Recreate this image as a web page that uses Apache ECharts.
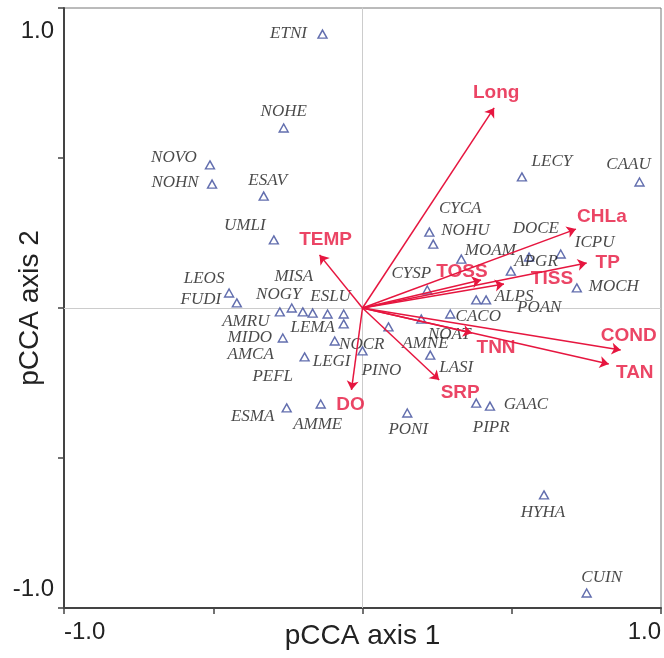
<!DOCTYPE html>
<html>
<head>
<meta charset="utf-8">
<script src="https://cdn.jsdelivr.net/npm/echarts@6/dist/echarts.min.js"></script>
<style>
  html, body { margin: 0; padding: 0; background: #fff; }
  #main { width: 664px; height: 658px; }
</style>
</head>
<body>
<div id="main"></div>
<script>
// species scores (axis 1, axis 2)
var speciesNames = ['ETNI','NOHE','NOVO','NOHN','ESAV','UMLI','LEOS','FUDI','AMRU','NOGY',
  'MISA','LEMA','ESLU','AMCA','PEFL','MIDO','NOCR','LEGI','PINO','AMNE',
  'NOAT','CACO','LASI','POAN','ALPS','CYSP','NOHU','CYCA','MOAM','DOCE',
  'APGR','ICPU','MOCH','LECY','CAAU','GAAC','PIPR','PONI','ESMA','AMME',
  'HYHA','CUIN'];
var speciesX = [-0.134,-0.264,-0.511,-0.504,-0.331,-0.297,-0.447,-0.421,-0.277,-0.237,
  -0.200,-0.167,-0.117,-0.063,-0.063,-0.267,-0.093,-0.194,0.000,0.087,
  0.197,0.294,0.227,0.381,0.414,0.217,0.224,0.237,0.331,0.497,
  0.558,0.664,0.718,0.534,0.928,0.427,0.381,0.150,-0.254,-0.140,
  0.608,0.751];
var speciesY = [0.913,0.600,0.477,0.413,0.373,0.227,0.050,0.017,-0.013,0.000,
  -0.013,-0.017,-0.020,-0.020,-0.053,-0.100,-0.110,-0.163,-0.143,-0.063,
  -0.037,-0.020,-0.157,0.027,0.027,0.060,0.253,0.213,0.163,0.123,
  0.170,0.180,0.067,0.437,0.420,-0.327,-0.317,-0.350,-0.333,-0.320,
  -0.623,-0.950];

// environmental vectors
var envNames = ['Long','TEMP','DO','SRP','TNN','COND','TAN','CHLa','TP','TISS','TOSS'];
var envX = [0.441,-0.144,-0.037,0.257,0.367,0.865,0.825,0.715,0.751,0.474,0.397];
var envY = [0.667,0.177,-0.273,-0.240,-0.083,-0.140,-0.187,0.263,0.150,0.080,0.093];

var axisTicks = [-1.0, 1.0];

// label placement (pixels, from the point)
var speciesLabelOffset = {
  ETNI:[-34,-1], NOHE:[0,-16], NOVO:[-36,-7], NOHN:[-37,-2], ESAV:[4,-16],
  UMLI:[-29,-14], LEOS:[-25,-14], FUDI:[-36,-3], AMRU:[-34,10], NOGY:[-13,-13],
  MISA:[-9,-35], LEMA:[0,14], ESLU:[3,-17], AMCA:[-93,41], PEFL:[-71,53],
  MIDO:[-33,0], NOCR:[27,4], LEGI:[27,5], PINO:[19,20], AMNE:[37,17],
  NOAT:[28,15], CACO:[28,3], LASI:[26,12], POAN:[63,8], ALPS:[28,-3],
  CYSP:[-16,-16], NOHU:[36,-2], CYCA:[27,-36], MOAM:[29,-9], DOCE:[25,-43],
  APGR:[7,5], ICPU:[34,-11], MOCH:[37,-1], LECY:[30,-15], CAAU:[-11,-17],
  GAAC:[36,-2], PIPR:[15,24], PONI:[1,17], ESMA:[-34,9], AMME:[-3,21],
  HYHA:[-1,18], CUIN:[15,-15]
};
var envLabelOffset = {
  Long:[2,-15], TEMP:[6,-15], DO:[-1,15], SRP:[21,13], TNN:[24,15],
  COND:[8,-14], TAN:[26,9], CHLa:[26,-12], TP:[21,0], TISS:[48,-5], TOSS:[-19,-8]
};

var red = '#e6163f';

var speciesData = speciesNames.map(function (n, i) {
  return {
    name: n,
    value: [speciesX[i], speciesY[i]],
    label: { offset: speciesLabelOffset[n] }
  };
});
var arrowData = envNames.map(function (n, i) {
  return { name: n, coords: [[0, 0], [envX[i], envY[i]]] };
});
var envLabelData = envNames.map(function (n, i) {
  return { name: n, value: [envX[i], envY[i]], label: { offset: envLabelOffset[n] } };
});

function tickFormatter(v) {
  return axisTicks.indexOf(v) >= 0 ? v.toFixed(1) : '';
}

var myChart = echarts.init(document.getElementById('main'));
var option = {
  animation: false,
  grid: {
    left: 64, right: 3, top: 8, bottom: 50,
    outerBoundsMode: 'none', containLabel: false,
    show: true, borderColor: '#777', borderWidth: 1
  },
  xAxis: {
    type: 'value', min: -1, max: 1, interval: 0.5,
    name: 'pCCA axis 1', nameLocation: 'middle', nameGap: 14, nameMoveOverlap: false,
    nameTextStyle: { fontSize: 28, color: '#222', fontFamily: 'Liberation Sans', verticalAlign: 'top' },
    axisLine: { onZero: false, lineStyle: { color: '#444', width: 2 } },
    axisTick: { length: 6, lineStyle: { color: '#444', width: 1.5 } },
    axisLabel: {
      formatter: tickFormatter, fontSize: 24, color: '#222', margin: 12,
      fontFamily: 'Liberation Sans', alignMinLabel: 'left', alignMaxLabel: 'right'
    },
    splitLine: { show: false }
  },
  yAxis: {
    type: 'value', min: -1, max: 1, interval: 0.5,
    name: 'pCCA axis 2', nameLocation: 'middle', nameGap: 20, nameMoveOverlap: false,
    nameTextStyle: { fontSize: 28, color: '#222', fontFamily: 'Liberation Sans' },
    axisLine: { onZero: false, lineStyle: { color: '#444', width: 2 } },
    axisTick: { length: 6, lineStyle: { color: '#444', width: 1.5 } },
    axisLabel: {
      formatter: tickFormatter, fontSize: 24, color: '#222', margin: 10,
      padding: [11, 0, 7, 0],
      fontFamily: 'Liberation Sans', verticalAlignMinLabel: 'bottom', verticalAlignMaxLabel: 'top'
    },
    splitLine: { show: false }
  },
  series: [
    {
      name: 'species',
      type: 'scatter',
      symbol: 'triangle',
      symbolSize: [9, 8],
      itemStyle: { color: '#fff', borderColor: '#3b4a9a', borderWidth: 1.4 },
      label: {
        show: true, position: 'inside', formatter: '{b}',
        fontFamily: 'Liberation Serif', fontStyle: 'italic', fontSize: 17, color: '#1a1a1a'
      },
      data: speciesData,
      markLine: {
        silent: true, symbol: 'none', label: { show: false },
        lineStyle: { color: '#ccc', width: 1, type: 'solid' },
        data: [{ xAxis: 0 }, { yAxis: 0 }],
        z: 1
      },
      z: 3
    },
    {
      name: 'vectors',
      type: 'lines',
      coordinateSystem: 'cartesian2d',
      symbol: ['none', 'arrow'],
      symbolSize: [0, 9],
      lineStyle: { color: red, width: 1.5, opacity: 1, curveness: 0 },
      data: arrowData,
      z: 4
    },
    {
      name: 'vectorLabels',
      type: 'scatter',
      symbolSize: 0,
      label: {
        show: true, position: 'inside', formatter: '{b}',
        fontFamily: 'Liberation Sans', fontWeight: 'bold', fontSize: 19, color: red
      },
      data: envLabelData,
      z: 5
    }
  ]
};
myChart.setOption(option);
</script>
</body>
</html>
